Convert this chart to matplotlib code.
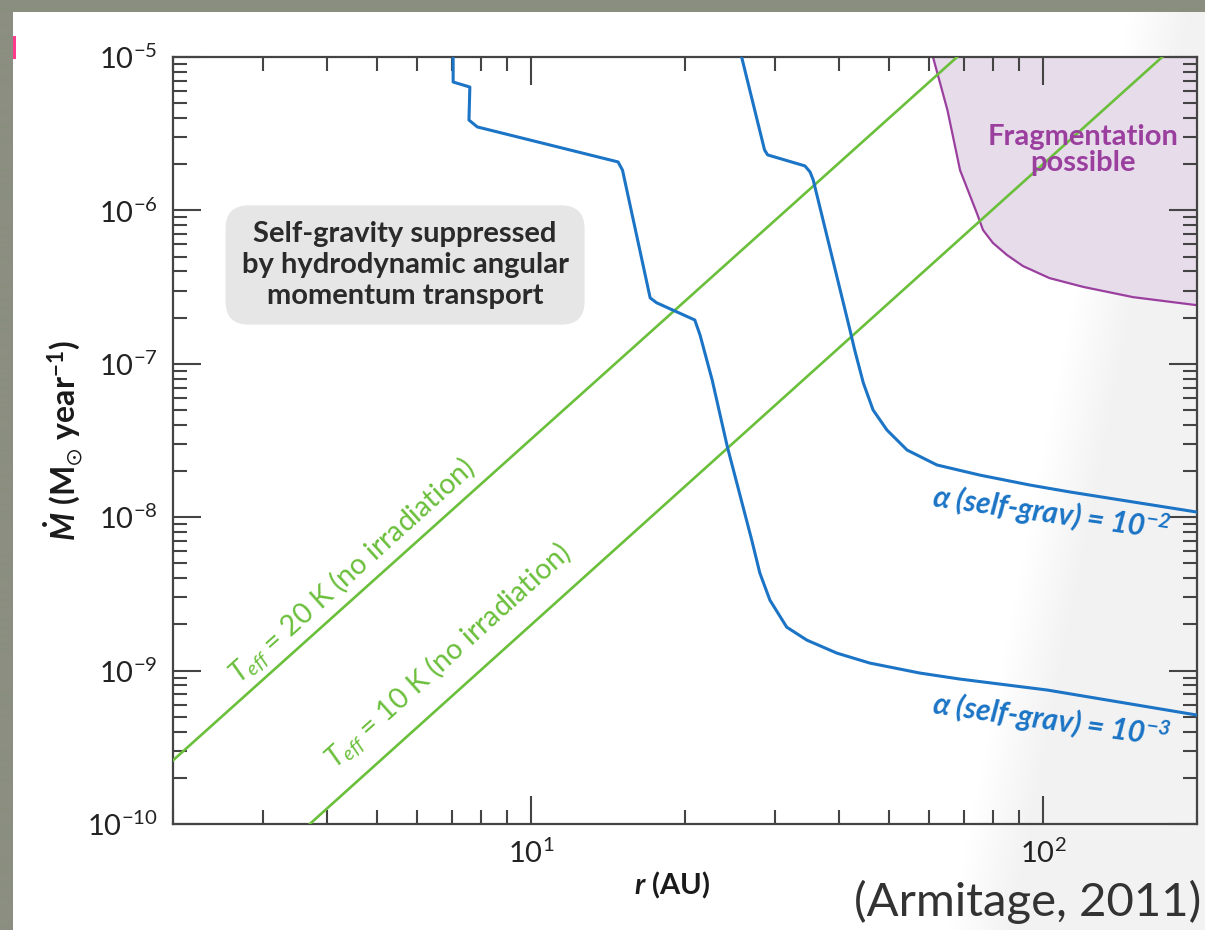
import numpy as np
import matplotlib
matplotlib.use("Agg")
import matplotlib.pyplot as plt
from matplotlib.patches import Rectangle
from matplotlib.ticker import LogLocator, NullFormatter, FixedLocator

plt.rcParams["font.family"] = ["Lato", "DejaVu Sans"]
plt.rcParams["mathtext.fontset"] = "custom"
plt.rcParams["mathtext.rm"] = "Lato"
plt.rcParams["mathtext.it"] = "Lato:italic"
plt.rcParams["mathtext.bf"] = "Lato:bold:italic"
plt.rcParams["mathtext.sf"] = "Lato:bold"
plt.rcParams["mathtext.fallback"] = "stixsans"

# --- data (r in AU, Mdot in Msun/yr) ---
alpha3_r = [7.05, 7.05, 7.60, 7.57, 7.86, 14.8, 15.1, 17.1, 17.6, 20.9, 21.4, 22.6,
            24.2, 27.0, 28.0, 29.3, 31.6, 34.6, 39.6, 45.9, 57.5, 68.8, 102, 200]
alpha3_mdot = [1.0e-5, 6.87e-6, 6.37e-6, 3.88e-6, 3.50e-6, 2.07e-6, 1.83e-6, 2.69e-7,
               2.50e-7, 1.93e-7, 1.54e-7, 7.84e-8, 2.87e-8, 7.10e-9, 4.33e-9, 2.88e-9,
               1.92e-9, 1.58e-9, 1.30e-9, 1.12e-9, 9.64e-10, 8.81e-10, 7.47e-10, 5.13e-10]

alpha2_r = [25.8, 28.6, 29.0, 34.3, 35.1, 35.6, 42.0, 42.9, 44.6, 46.6, 49.6, 54.3,
            62.1, 75.4, 94.4, 113, 200]
alpha2_mdot = [1.0e-5, 2.48e-6, 2.30e-6, 1.95e-6, 1.78e-6, 1.58e-6, 1.66e-7, 1.23e-7,
               7.50e-8, 5.00e-8, 3.70e-8, 2.74e-8, 2.19e-8, 1.88e-8, 1.62e-8, 1.46e-8,
               1.08e-8]

frag_r = [61.0, 65.1, 68.9, 74.3, 76.4, 79.9, 85.1, 91.4, 103, 120, 150, 200]
frag_mdot = [1.0e-5, 4.51e-6, 1.83e-6, 9.61e-7, 7.45e-7, 6.13e-7, 5.12e-7, 4.34e-7,
             3.62e-7, 3.17e-7, 2.72e-7, 2.41e-7]

teff20_r = [2.0, 68.0]
teff20_mdot = [2.6e-10, 1.0e-5]
teff10_r = [3.7, 171.0]
teff10_mdot = [1.0e-10, 1.0e-5]

x_major = [10, 100]
y_major = [1e-10, 1e-9, 1e-8, 1e-7, 1e-6, 1e-5]

BLUE = "#1b74c5"
GREEN = "#6abf3b"
PURPLE = "#9b3f9f"
AXC = "#444444"

W, H = 1205, 930
fig = plt.figure(figsize=(W / 100, H / 100), dpi=100, facecolor="#8b8e80")

# slide background: white page with a soft light-grey sheen on the right
bg = fig.add_axes([0, 0, 1, 1], zorder=-5)
bg.set_axis_off()
yy, xx = np.mgrid[0:H, 0:W]
edge = 1130 - (yy - 13) * (180.0 / 917.0)
t = np.clip((xx - edge) / 60.0, 0, 1)
shade = 1.0 - 0.05 * t
img = np.dstack([shade, shade, shade])
page = (xx >= 13) & (yy >= 13)
img[~page] = np.array([0x8b, 0x8e, 0x80]) / 255.0
img[37:60, 13:16] = np.array([1.0, 0.23, 0.55])
bg.imshow(img, extent=[0, W, H, 0], aspect="auto", interpolation="bilinear")
bg.set_xlim(0, W)
bg.set_ylim(H, 0)

ax = fig.add_axes([173 / W, 1 - 824 / H, 1024 / W, 767 / H])
ax.set_facecolor("none")
ax.set_xscale("log")
ax.set_yscale("log")
ax.set_xlim(2, 200)
ax.set_ylim(1e-10, 1e-5)

ax.fill_between(frag_r, frag_mdot, 1e-5, color="#e6dcea", lw=0, zorder=1)
ax.plot(frag_r, frag_mdot, color=PURPLE, lw=1.6, zorder=2)
ax.plot(teff20_r, teff20_mdot, color=GREEN, lw=1.9, zorder=3)
ax.plot(teff10_r, teff10_mdot, color=GREEN, lw=1.9, zorder=3)
ax.plot(alpha3_r, alpha3_mdot, color=BLUE, lw=2.2, zorder=4)
ax.plot(alpha2_r, alpha2_mdot, color=BLUE, lw=2.2, zorder=4)

for s in ax.spines.values():
    s.set_color(AXC)
    s.set_linewidth(1.6)
ax.xaxis.set_major_locator(FixedLocator(x_major))
ax.yaxis.set_major_locator(FixedLocator(y_major))
ax.xaxis.set_minor_locator(LogLocator(base=10, subs=np.arange(2, 10), numticks=20))
ax.yaxis.set_minor_locator(LogLocator(base=10, subs=np.arange(2, 10), numticks=20))
ax.xaxis.set_minor_formatter(NullFormatter())
ax.yaxis.set_minor_formatter(NullFormatter())
ax.tick_params(which="both", direction="in", top=True, right=True, color=AXC, width=1.5)
ax.tick_params(which="major", length=20, labelsize=21, pad=11, labelcolor="#222222")
ax.tick_params(which="minor", length=10)

ax.text(0.2266, 0.7288, "Self-gravity suppressed\nby hydrodynamic angular\nmomentum transport",
        transform=ax.transAxes, ha="center", va="center", fontsize=21, fontweight="bold",
        color="#2a2a2a", linespacing=1.22, zorder=6,
        bbox=dict(boxstyle="round,pad=0.55,rounding_size=0.8", fc="#e6e6e6", ec="none"))
ax.text(0.889, 0.879, "Fragmentation\npossible", transform=ax.transAxes, ha="center",
        va="center", fontsize=21, fontweight="bold", color=PURPLE, linespacing=1.0, zorder=6)

ax.text(0.175, 0.3286, r"$T_{eff}$ = 20 K (no irradiation)", transform=ax.transAxes,
        ha="center", va="center", rotation=42, rotation_mode="anchor", fontsize=20.5,
        color=GREEN, zorder=6)
ax.text(0.2695, 0.2177, r"$T_{eff}$ = 10 K (no irradiation)", transform=ax.transAxes,
        ha="center", va="center", rotation=42, rotation_mode="anchor", fontsize=20.5,
        color=GREEN, zorder=6)

ax.text(0.858, 0.405, r"$\mathbf{\alpha}$ (self-grav) = 10$^{\mathbf{-2}}$",
        transform=ax.transAxes, ha="center", va="center", rotation=-8,
        rotation_mode="anchor", fontsize=21.5, fontweight="bold", style="italic",
        color=BLUE, zorder=6)
ax.text(0.858, 0.1356, r"$\mathbf{\alpha}$ (self-grav) = 10$^{\mathbf{-3}}$",
        transform=ax.transAxes, ha="center", va="center", rotation=-8,
        rotation_mode="anchor", fontsize=21.5, fontweight="bold", style="italic",
        color=BLUE, zorder=6)

fig.text(63 / W, 1 - 441 / H, r"$\mathbf{\dot{M}}$ $\mathsf{(M_{\odot}\ year^{-1})}$",
         rotation=90, ha="center", va="center", fontsize=23, color="#1a1a1a")
fig.text(672 / W, 1 - 885 / H, r"$\mathbf{r}$ $\mathsf{(AU)}$", ha="center", va="center",
         fontsize=21, color="#1a1a1a")
fig.text(1028 / W, 1 - 902 / H, "(Armitage, 2011)", ha="center", va="center", fontsize=34,
         color="#333333")

fig.savefig("out.png", dpi=100, facecolor=fig.get_facecolor())
